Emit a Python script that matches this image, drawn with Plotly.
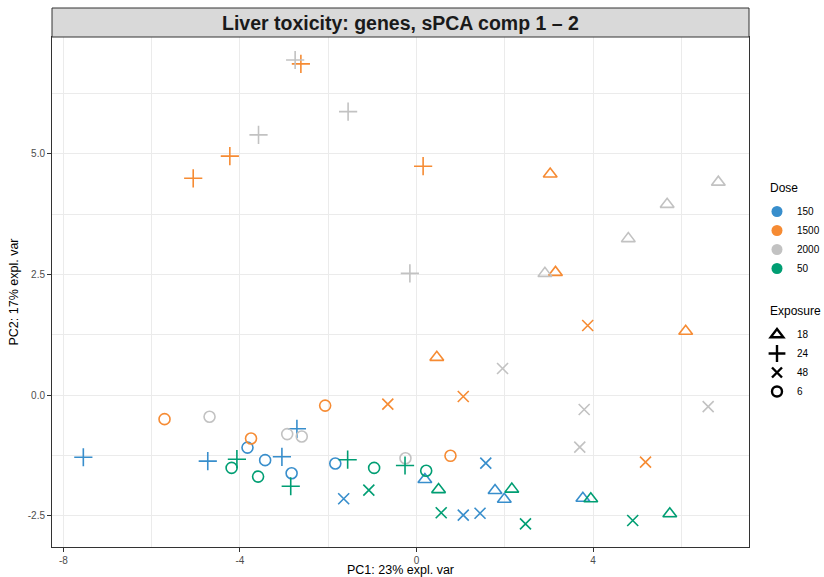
import plotly.graph_objects as go

# ---- data ----
dose_levels = ["150", "1500", "2000", "50"]
dose_colors = ["#388ECC", "#F68B33", "#C2C2C2", "#009E73"]
exposure_levels = ["18", "24", "48", "6"]
exposure_symbols = ["triangle-up-open", "cross-thin-open", "x-thin-open", "circle-open"]

x_tickvals = [-8, -4, 0, 4]
x_ticktext = ["-8", "-4", "0", "4"]
y_tickvals = [-2.5, 0, 2.5, 5]
y_ticktext = ["-2.5", "0.0", "2.5", "5.0"]

# dose 150
pc1_150 = [-7.55, -4.73, -3.05, -2.71,   -3.83, -3.43, -2.83, -1.84,   -1.65, 1.57, 1.06, 1.44,   0.19, 1.78, 1.99, 3.77]
pc2_150 = [-1.29, -1.37, -1.28, -0.70,   -1.09, -1.35, -1.62, -1.42,   -2.15, -1.41, -2.49, -2.45,  -1.75, -1.98, -2.16, -2.14]
exp_150 = ["24"] * 4 + ["6"] * 4 + ["48"] * 4 + ["18"] * 4

# dose 1500
pc1_1500 = [-5.06, -4.23, -2.62, 0.15,   3.03, 3.15, 0.46, 6.10,   3.88, 1.06, 5.19, -0.65,   -5.71, -3.75, -2.07, 0.77]
pc2_1500 = [4.49, 4.95, 6.86, 4.74,      4.58, 2.54, 0.78, 1.32,   1.44, -0.03, -1.39, -0.19,  -0.50, -0.90, -0.22, -1.26]
exp_1500 = ["24"] * 4 + ["18"] * 4 + ["48"] * 4 + ["6"] * 4

# dose 2000
pc1_2000 = [-2.75, -3.58, -1.55, -0.15,   6.84, 5.68, 4.80, 2.91,   1.95, 3.80, 6.61, 3.70,   -4.69, -2.93, -2.60, -0.25]
pc2_2000 = [6.94, 5.39, 5.87, 2.52,       4.41, 3.95, 3.24, 2.52,   0.55, -0.30, -0.24, -1.08,  -0.45, -0.81, -0.86, -1.31]
exp_2000 = ["24"] * 4 + ["18"] * 4 + ["48"] * 4 + ["6"] * 4

# dose 50
pc1_50 = [0.50, 2.16, 3.95, 5.74,   0.56, 2.47, 4.90, -1.08,   -4.07, -2.85, -1.56, -0.26,   -4.19, -3.59, -0.96, 0.22]
pc2_50 = [-1.96, -1.95, -2.15, -2.46,   -2.44, -2.67, -2.60, -1.97,   -1.33, -1.89, -1.34, -1.46,   -1.51, -1.69, -1.51, -1.57]
exp_50 = ["18"] * 4 + ["48"] * 4 + ["24"] * 4 + ["6"] * 4

pc1 = {"150": pc1_150, "1500": pc1_1500, "2000": pc1_2000, "50": pc1_50}
pc2 = {"150": pc2_150, "1500": pc2_1500, "2000": pc2_2000, "50": pc2_50}
expo = {"150": exp_150, "1500": exp_1500, "2000": exp_2000, "50": exp_50}

title_text = "Liver toxicity: genes, sPCA comp 1 \u2013 2"
x_title = "PC1: 23% expl. var"
y_title = "PC2: 17% expl. var"
legend_titles = ["Dose", "Exposure"]

# ---- figure ----
FONT = "Liberation Sans, Arial, Helvetica, sans-serif"
sym_size = {"triangle-up-open": 12, "cross-thin-open": 13, "x-thin-open": 11, "circle-open": 11}
leg_size = {"triangle-up-open": 11, "cross-thin-open": 12, "x-thin-open": 10, "circle-open": 10}

fig = go.Figure()
for d, col in zip(dose_levels, dose_colors):
    for e, sym in zip(exposure_levels, exposure_symbols):
        xs = [x for x, ee in zip(pc1[d], expo[d]) if ee == e]
        ys = [y for y, ee in zip(pc2[d], expo[d]) if ee == e]
        fig.add_trace(go.Scatter(
            x=xs, y=ys, mode="markers", showlegend=False,
            marker=dict(symbol=sym, size=sym_size[sym], color=col,
                        line=dict(color=col, width=1.6)),
            hovertemplate=f"Dose {d}, Exposure {e}<br>PC1 %{{x}}<br>PC2 %{{y}}<extra></extra>",
        ))

# legend entries: Dose
for d, col in zip(dose_levels, dose_colors):
    fig.add_trace(go.Scatter(
        x=[None], y=[None], mode="markers", name=d, legend="legend",
        marker=dict(symbol="circle", size=11, color=col),
    ))
# legend entries: Exposure
for e, sym in zip(exposure_levels, exposure_symbols):
    fig.add_trace(go.Scatter(
        x=[None], y=[None], mode="markers", name=e, legend="legend2",
        marker=dict(symbol=sym, size=leg_size[sym], color="black",
                    line=dict(color="black", width=2.4)),
    ))

W, H = 824, 577
L, R, T, B = 52, 75, 37, 30
ph = H - T - B

axis_common = dict(
    showgrid=True, gridcolor="#EBEBEB", gridwidth=1.1,
    zeroline=False, showline=True, linecolor="#333333", linewidth=1, mirror=True,
    ticks="outside", ticklen=4, tickwidth=1, tickcolor="#333333",
    tickfont=dict(family=FONT, size=10, color="#4D4D4D"),
    automargin=False,
)

leg_common = dict(
    font=dict(family=FONT, size=10, color="black"),
    xref="container", yref="container", xanchor="left", yanchor="top",
    itemsizing="trace", tracegroupgap=0, bgcolor="rgba(0,0,0,0)",
)

fig.update_layout(
    width=W, height=H,
    margin=dict(l=L, r=R, t=T, b=B),
    paper_bgcolor="white", plot_bgcolor="white",
    font=dict(family=FONT),
    xaxis=dict(
        range=[-8.26, 7.535], tickmode="array", tickvals=x_tickvals, ticktext=x_ticktext,
        minor=dict(tickmode="array", tickvals=[-6, -2, 2, 6], showgrid=True,
                   gridcolor="#EBEBEB", gridwidth=0.6, ticks=""),
        title=dict(text=x_title, font=dict(family=FONT, size=12.5, color="black"), standoff=5),
        **axis_common,
    ),
    yaxis=dict(
        range=[-3.149, 7.417], tickmode="array", tickvals=y_tickvals, ticktext=y_ticktext,
        minor=dict(tickmode="array", tickvals=[-1.25, 1.25, 3.75, 6.25], showgrid=True,
                   gridcolor="#EBEBEB", gridwidth=0.6, ticks=""),
        title=dict(text=y_title, font=dict(family=FONT, size=12.5, color="black"), standoff=6),
        **axis_common,
    ),
    legend=dict(x=757 / W, y=1 - 197 / H, **leg_common),
    legend2=dict(x=757 / W, y=1 - 320 / H, **leg_common),
    shapes=[dict(
        type="rect", xref="paper", yref="paper", x0=0, x1=1, y0=1, y1=1 + 29 / ph,
        fillcolor="#D9D9D9", line=dict(color="#333333", width=1), layer="above",
    )],
    annotations=[
        dict(text=f"<b>{title_text}</b>", xref="paper", yref="paper",
             x=0.5, y=1 + 14.5 / ph, xanchor="center", yanchor="middle", showarrow=False,
             font=dict(family=FONT, size=19.5, color="#1A1A1A")),
        dict(text=legend_titles[0], xref="paper", yref="paper",
             x=1 + (768 - W + R) / (W - L - R), y=(H - B - 188) / ph,
             xanchor="left", yanchor="middle", showarrow=False,
             font=dict(family=FONT, size=12, color="black")),
        dict(text=legend_titles[1], xref="paper", yref="paper",
             x=1 + (768 - W + R) / (W - L - R), y=(H - B - 311) / ph,
             xanchor="left", yanchor="middle", showarrow=False,
             font=dict(family=FONT, size=12, color="black")),
    ],
)

fig.write_html("out.html")
